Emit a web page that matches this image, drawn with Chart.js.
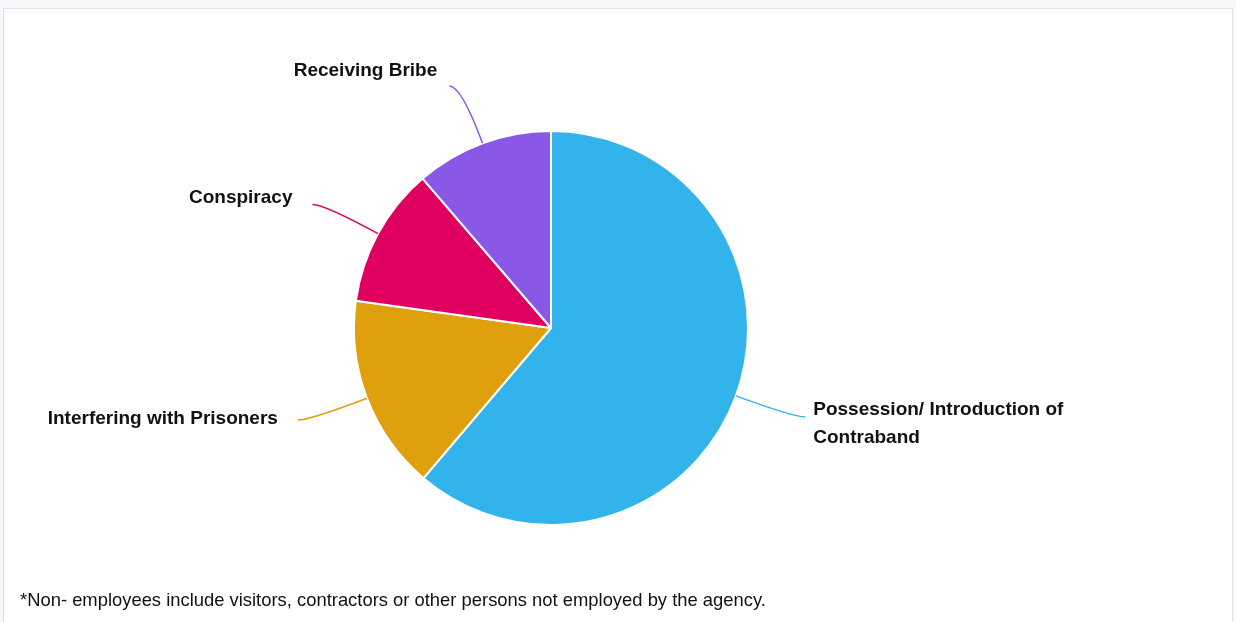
<!DOCTYPE html>
<html lang="en">
<head>
  <meta charset="UTF-8">
  <title>Non-employee offences</title>
  <script src="https://cdn.jsdelivr.net/npm/chart.js@4.4.0/dist/chart.umd.min.js"></script>
  <style>
    html, body { margin: 0; padding: 0; }
    body { width: 1236px; height: 622px; background: #f8f8fc; position: relative; overflow: hidden; }
    #frame { position: absolute; left: 3px; top: 8px; width: 1228px; height: 620px; background: #fff; border: 1px solid #e2e2e6; }
    #myChart { position: absolute; left: 0; top: 0; }
    #nota { position: absolute; left: 20px; top: 589px; font: 18.4px "Liberation Sans", Arial, sans-serif; color: #111; }
  </style>
</head>
<body>
  <div id="frame"></div>
  <canvas id="myChart" width="1236" height="622"></canvas>
  <div id="nota">*Non- employees include visitors, contractors or other persons not employed by the agency.</div>

  <script>
    // datos (porcentaje aproximado de cada categoria)
    var categorias = [
      ['Possession/ Introduction of', 'Contraband'],
      ['Interfering with Prisoners'],
      ['Conspiracy'],
      ['Receiving Bribe']
    ];
    var valores = [61.2, 16.0, 11.5, 11.3];
    var colores = ['#33b3ec', '#dfa00e', '#df0060', '#8b57e6'];

    // etiquetas fuera del pastel con linea guia curva
    var etiquetasFuera = {
      id: 'etiquetasFuera',
      afterDraw: function (chart) {
        var ctx = chart.ctx;
        var arcos = chart.getDatasetMeta(0).data;
        ctx.save();
        ctx.font = 'bold 19px "Liberation Sans", Arial, sans-serif';
        ctx.fillStyle = '#111';
        ctx.textBaseline = 'middle';
        arcos.forEach(function (arco, i) {
          var a = (arco.startAngle + arco.endAngle) / 2;
          var r = arco.outerRadius;
          var cx = arco.x, cy = arco.y;
          var p0 = { x: cx + Math.cos(a) * r, y: cy + Math.sin(a) * r };
          var p1 = { x: cx + Math.cos(a) * r * 1.31, y: cy + Math.sin(a) * r * 1.31 };
          var derecha = Math.cos(a) >= 0;
          var p2 = { x: p1.x + (derecha ? 12 : -12), y: p1.y };
          ctx.strokeStyle = colores[i];
          ctx.lineWidth = 1.5;
          ctx.beginPath();
          ctx.moveTo(p0.x, p0.y);
          ctx.quadraticCurveTo(p1.x, p1.y, p2.x, p2.y);
          ctx.stroke();

          var lineas = categorias[i];
          var s = Math.sin(a);
          var arriba = s < -0.8 ? 15 : (s > 0 && !derecha ? 1 : 7);
          ctx.textAlign = derecha ? 'left' : 'right';
          var hueco = derecha ? 8 : (s < -0.8 ? 12 : 20);
          var tx = derecha ? p2.x + hueco : p2.x - hueco;
          lineas.forEach(function (t, k) {
            ctx.fillText(t, tx, p2.y - arriba + k * 28);
          });
        });
        ctx.restore();
      }
    };

    var ctx = document.getElementById('myChart').getContext('2d');
    var chart = new Chart(ctx, {
      type: 'pie',
      data: {
        labels: categorias,
        datasets: [{
          data: valores,
          backgroundColor: colores,
          borderColor: '#ffffff',
          borderWidth: 2
        }]
      },
      options: {
        responsive: false,
        animation: false,
        layout: { padding: { left: 353, right: 487, top: 130, bottom: 96 } },
        plugins: {
          legend: { display: false },
          tooltip: { enabled: false }
        }
      },
      plugins: [etiquetasFuera]
    });
  </script>
</body>
</html>
